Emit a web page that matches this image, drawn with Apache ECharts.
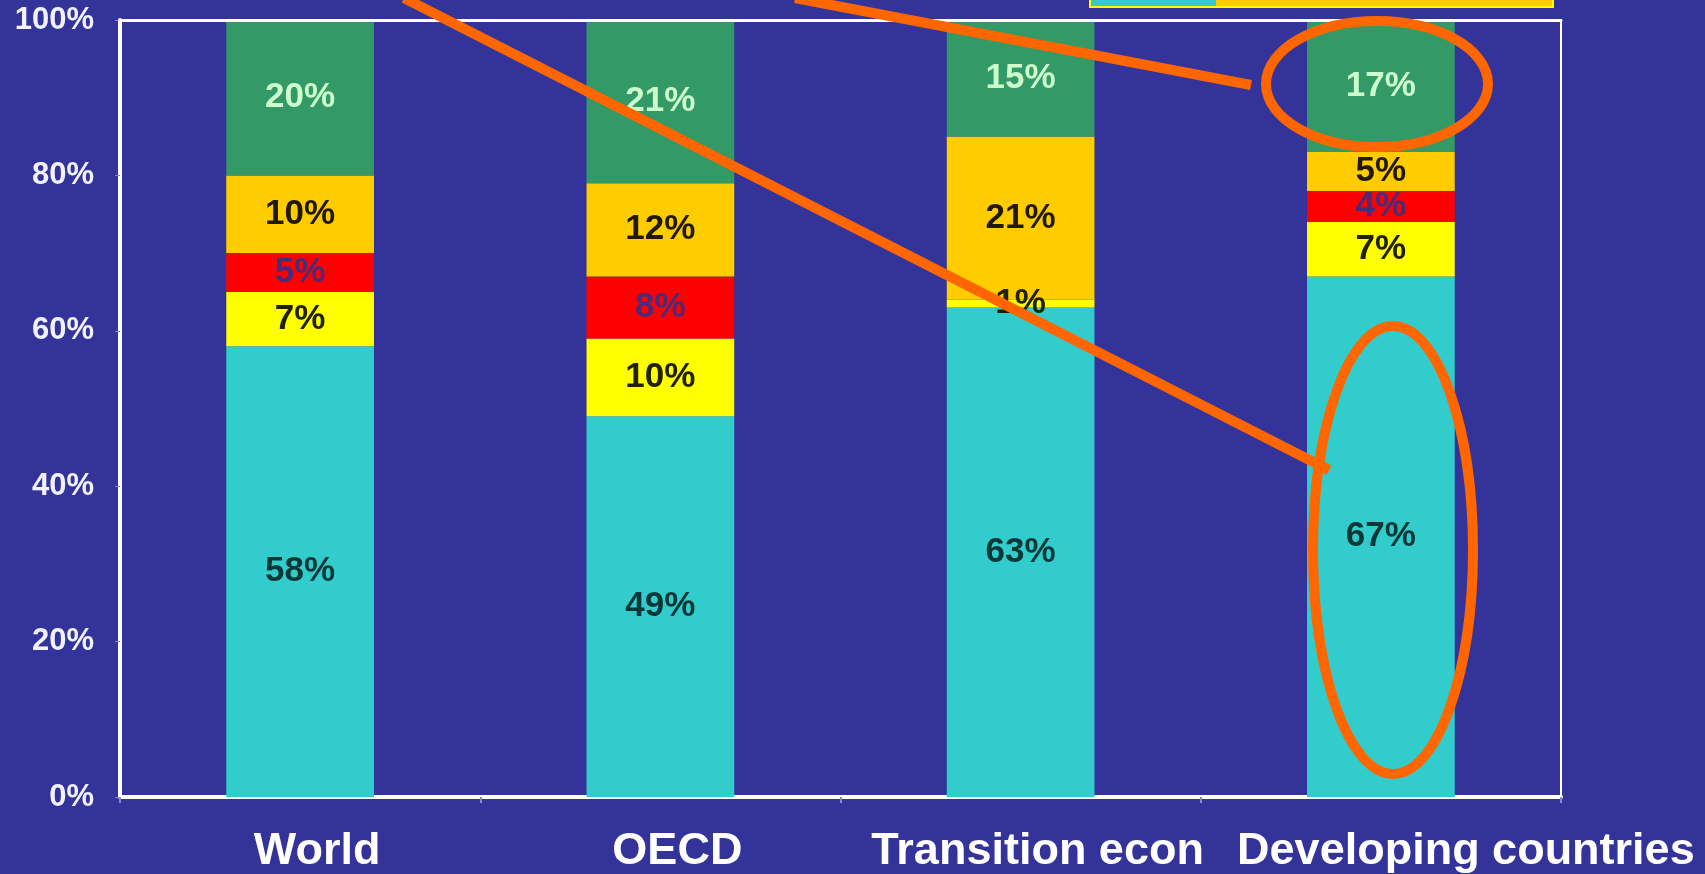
<!doctype html>
<html lang="en">
<head>
<meta charset="UTF-8"/>
<title>Stacked shares</title>
<script src="https://cdn.jsdelivr.net/npm/echarts@6/dist/echarts.min.js"></script>
<style>
	html, body { margin: 0; padding: 0; background: #333399; }
	#main { width: 1705px; height: 874px; }
</style>
</head>
<body>
<div id="main"></div>
<script type="text/javascript">
	// categories and stacked shares (bottom to top)
	var categories = ['World', 'OECD', 'Transition econ', 'Developing countries'];
	var cyanData = [58, 49, 63, 67];
	var yellowData = [7, 10, 1, 7];
	var redData = [5, 8, 0, 4];
	var orangeData = [10, 12, 21, 5];
	var greenData = [20, 21, 15, 17];
	var yTicks = [0, 20, 40, 60, 80, 100];

	var font = 'Liberation Sans, Arial, sans-serif';

	function seg(name, data, color, textColor) {
		return {
			name : name,
			type : 'bar',
			stack : 'total',
			barWidth : '41%',
			data : data,
			itemStyle : { color : color },
			label : {
				show : true,
				position : 'inside',
				fontFamily : font,
				fontSize : 35,
				fontWeight : 'bold',
				color : textColor,
				formatter : function (p) {
					return p.value ? p.value + '%' : '';
				}
			}
		};
	}

	var myChart = echarts.init(document.getElementById('main'));
	var option = {
		backgroundColor : '#333399',
		animation : false,
		grid : {
			left : 120,
			right : 144,
			top : 20,
			bottom : 77,
			show : true,
			borderColor : '#ffffff',
			borderWidth : 2
		},
		xAxis : [ {
			type : 'category',
			data : categories,
			axisLine : { lineStyle : { color : '#ffffff', width : 4 } },
			axisTick : { show : true, length : 6, lineStyle : { color : '#8888cc', width : 2 } },
			axisLabel : {
				interval : 0,
				margin : 32,
				color : '#ffffff',
				fontFamily : font,
				fontSize : 45,
				fontWeight : 'bold',
				formatter : function (v) {
					return v === 'Developing countries' ? '{w|' + v + '}' : '{n|' + v + '}';
				},
				rich : {
					n : { padding : [0, 0, 0, 34], color : '#ffffff', fontFamily : font, fontSize : 45, fontWeight : 'bold' },
					w : { padding : [0, 0, 0, 170], color : '#ffffff', fontFamily : font, fontSize : 45, fontWeight : 'bold' }
				}
			}
		}, {
			type : 'category',
			position : 'top',
			data : categories,
			z : 10,
			axisLine : { lineStyle : { color : '#ffffff', width : 3 } },
			axisTick : { show : false },
			axisLabel : { show : false }
		} ],
		yAxis : {
			type : 'value',
			min : yTicks[0],
			max : yTicks[yTicks.length - 1],
			interval : 20,
			splitLine : { show : false },
			axisLine : { show : true, lineStyle : { color : '#ffffff', width : 4 } },
			axisTick : { show : true, length : 5, lineStyle : { color : '#8888cc' } },
			axisLabel : {
				margin : 26,
				color : '#f2f2ff',
				fontFamily : font,
				fontSize : 31,
				fontWeight : 'bold',
				formatter : '{value}%'
			}
		},
		series : [
			seg('s1', cyanData, '#33CCCC', '#0a3838'),
			seg('s2', yellowData, '#FFFF00', '#222200'),
			seg('s3', redData, '#FF0000', '#4b2a7a'),
			seg('s4', orangeData, '#FFCC00', '#221a00'),
			seg('s5', greenData, '#339966', '#ccffcc')
		],
		graphic : [
			// legend box cut off at the top edge
			{ type : 'rect', z : 50, shape : { x : 1090, y : -30, width : 463, height : 37 },
				style : { fill : '#FFCC00', stroke : '#FFFF00', lineWidth : 2 } },
			{ type : 'rect', z : 51, shape : { x : 1091, y : -30, width : 125, height : 36 },
				style : { fill : '#33CCCC' } },
			// orange call-outs
			{ type : 'line', z : 100, shape : { x1 : 404, y1 : -2, x2 : 1329, y2 : 470 },
				style : { stroke : '#FF6600', lineWidth : 10 } },
			{ type : 'line', z : 100, shape : { x1 : 795, y1 : -2, x2 : 1251, y2 : 85 },
				style : { stroke : '#FF6600', lineWidth : 10 } },
			{ type : 'ellipse', z : 100, shape : { cx : 1377, cy : 84, rx : 111, ry : 63 },
				style : { fill : 'none', stroke : '#FF6600', lineWidth : 10 } },
			{ type : 'ellipse', z : 100, shape : { cx : 1393, cy : 550, rx : 80, ry : 224 },
				style : { fill : 'none', stroke : '#FF6600', lineWidth : 10 } }
		]
	};
	myChart.setOption(option);
</script>
</body>
</html>
